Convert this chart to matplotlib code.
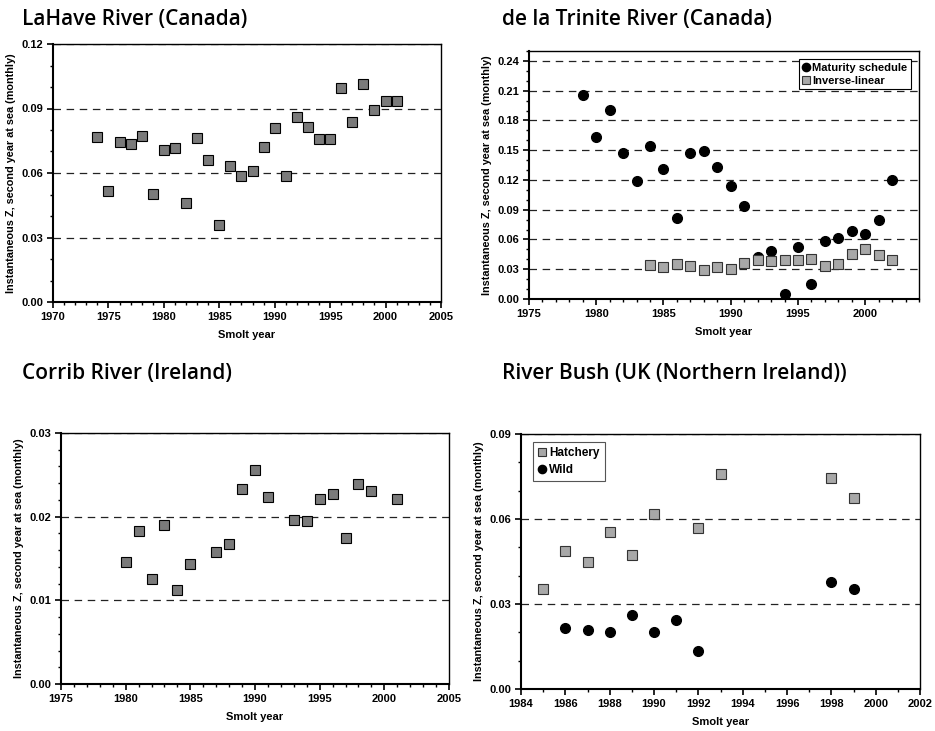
import matplotlib.pyplot as plt
from matplotlib.ticker import MultipleLocator, FormatStrFormatter

# LaHave River (Canada)
lahave_years = [1974, 1975, 1976, 1977, 1978, 1979, 1980, 1981, 1982, 1983, 1984, 1985, 1986, 1987,
                1988, 1989, 1990, 1991, 1992, 1993, 1994, 1995, 1996, 1997, 1998, 1999, 2000, 2001]
lahave_z = [0.0767, 0.0516, 0.0743, 0.0734, 0.0774, 0.0502, 0.0709, 0.0715, 0.0460, 0.0763, 0.0660,
            0.0358, 0.0633, 0.0585, 0.0610, 0.0723, 0.0811, 0.0588, 0.0859, 0.0816, 0.0757, 0.0757,
            0.0997, 0.0838, 0.1013, 0.0895, 0.0934, 0.0934]

# de la Trinite River (Canada)
trin_mat_years = list(range(1979, 2003))
trin_mat_z = [0.2057, 0.1637, 0.1906, 0.1469, 0.1187, 0.1539, 0.1308, 0.0817, 0.1472, 0.1496, 0.1328,
              0.1143, 0.0941, 0.0420, 0.0484, 0.0047, 0.0521, 0.0148, 0.0585, 0.0612, 0.0682, 0.0652,
              0.0797, 0.1200]
trin_inv_years = list(range(1984, 2003))
trin_inv_z = [0.0339, 0.0319, 0.0350, 0.0336, 0.0292, 0.0326, 0.0306, 0.0360, 0.0397, 0.0387, 0.0393,
              0.0393, 0.0400, 0.0329, 0.0350, 0.0457, 0.0508, 0.0440, 0.0397]

# Corrib River (Ireland)
corrib_years = [1980, 1981, 1982, 1983, 1984, 1985, 1987, 1988, 1989, 1990, 1991, 1993, 1994, 1995,
                1996, 1997, 1998, 1999, 2001]
corrib_z = [0.01464, 0.01831, 0.01257, 0.01895, 0.01129, 0.0144, 0.01572, 0.01672, 0.02334, 0.02553,
            0.02238, 0.01963, 0.01951, 0.02214, 0.02266, 0.01747, 0.02394, 0.02306, 0.0221]

# River Bush (UK (Northern Ireland))
bush_hat_years = [1985, 1986, 1987, 1988, 1989, 1990, 1992, 1993, 1998, 1999]
bush_hat_z = [0.0354, 0.0486, 0.0448, 0.0553, 0.0472, 0.0618, 0.0567, 0.0760, 0.0746, 0.0675]
bush_wild_years = [1986, 1987, 1988, 1989, 1990, 1991, 1992, 1998, 1999]
bush_wild_z = [0.0216, 0.0209, 0.0201, 0.0261, 0.0202, 0.0244, 0.0133, 0.0378, 0.0353]

plt.rcParams['font.family'] = ['Liberation Sans', 'DejaVu Sans']

W, H = 935, 731
fig = plt.figure(figsize=(W / 100, H / 100), dpi=100)


def make_ax(l, t, r, b):
    return fig.add_axes([l / W, 1 - b / H, (r - l) / W, (b - t) / H])


def style(ax, xlim, xmaj, ylim, ymaj, ymin, yfmt):
    ax.set_xlim(*xlim)
    ax.set_ylim(*ylim)
    ax.xaxis.set_major_locator(MultipleLocator(xmaj))
    ax.xaxis.set_minor_locator(MultipleLocator(1))
    ax.yaxis.set_major_locator(MultipleLocator(ymaj))
    ax.yaxis.set_minor_locator(MultipleLocator(ymin))
    ax.yaxis.set_major_formatter(FormatStrFormatter(yfmt))
    ax.tick_params(which='major', length=4, width=1.2, labelsize=8, pad=3)
    ax.tick_params(which='minor', length=2.5, width=1)
    for lab in ax.get_xticklabels() + ax.get_yticklabels():
        lab.set_fontweight('bold')
    for s in ['left', 'bottom']:
        ax.spines[s].set_linewidth(1.5)
    for s in ['top', 'right']:
        ax.spines[s].set_linewidth(1.0)
    ax.yaxis.grid(True, which='major', linestyle=(0, (6, 4.5)), color='#222222', linewidth=0.9)
    ax.set_axisbelow(True)
    ax.set_xlabel('Smolt year', fontsize=8, fontweight='bold', labelpad=6)
    ax.set_ylabel('Instantaneous Z, second year at sea (monthly)', fontsize=7.8, fontweight='bold',
                  labelpad=4)


title_kw = dict(fontsize=15, fontweight='semibold', family=['Open Sans', 'DejaVu Sans'],
                va='center', ha='left')
fig.text(22 / W, 1 - 20 / H, 'LaHave River (Canada)', **title_kw)
fig.text(502 / W, 1 - 20 / H, 'de la Trinite River (Canada)', **title_kw)
fig.text(22 / W, 1 - 373 / H, 'Corrib River (Ireland)', **title_kw)
fig.text(502 / W, 1 - 373 / H, 'River Bush (UK (Northern Ireland))', **title_kw)

sq_dark = dict(marker='s', linestyle='none', markersize=7, markerfacecolor='#7a7a7a',
               markeredgecolor='black', markeredgewidth=0.8)
sq_light = dict(marker='s', linestyle='none', markersize=7, markerfacecolor='#a8a8a8',
                markeredgecolor='#333333', markeredgewidth=0.8)
circ = dict(marker='o', linestyle='none', markersize=7, markerfacecolor='black',
            markeredgecolor='black')

# Panel 1
ax1 = make_ax(53, 44, 441, 302)
style(ax1, (1970, 2005), 5, (0, 0.12), 0.03, 0.01, '%.2f')
ax1.plot(lahave_years, lahave_z, **sq_dark)

# Panel 2
ax2 = make_ax(529, 51, 919, 299)
style(ax2, (1975, 2004), 5, (0, 0.25), 0.03, 0.01, '%.2f')
ax2.plot(trin_mat_years, trin_mat_z, label='Maturity schedule', **circ)
ax2.plot(trin_inv_years, trin_inv_z, label='Inverse-linear', **sq_light)
leg2 = ax2.legend(loc='upper right', bbox_to_anchor=(0.985, 0.975), fancybox=False, edgecolor='black',
                  framealpha=1, prop=dict(size=8, weight='bold'), handlelength=0.6,
                  handletextpad=0.3, borderpad=0.3, labelspacing=0.3, markerscale=0.85,
                  borderaxespad=0.2)
leg2.get_frame().set_linewidth(0.8)

# Panel 3
ax3 = make_ax(61, 433, 449, 684)
style(ax3, (1975, 2005), 5, (0, 0.03), 0.01, 0.002, '%.2f')
ax3.plot(corrib_years, corrib_z, **sq_dark)

# Panel 4
ax4 = make_ax(521, 434, 920, 689)
style(ax4, (1984, 2002), 2, (0, 0.09), 0.03, 0.01, '%.2f')
ax4.plot(bush_hat_years, bush_hat_z, label='Hatchery', **sq_light)
ax4.plot(bush_wild_years, bush_wild_z, label='Wild', **circ)
leg4 = ax4.legend(loc='upper left', bbox_to_anchor=(0.03, 0.97), fancybox=False, edgecolor='#555555',
                  framealpha=1, prop=dict(size=8.5, weight='bold'), handlelength=0.6,
                  handletextpad=0.3, borderpad=0.45, labelspacing=0.4, markerscale=0.85,
                  borderaxespad=0.0)
leg4.get_frame().set_linewidth(0.8)
leg4._legend_box.align = 'left'

fig.savefig('out.png', dpi=100)
